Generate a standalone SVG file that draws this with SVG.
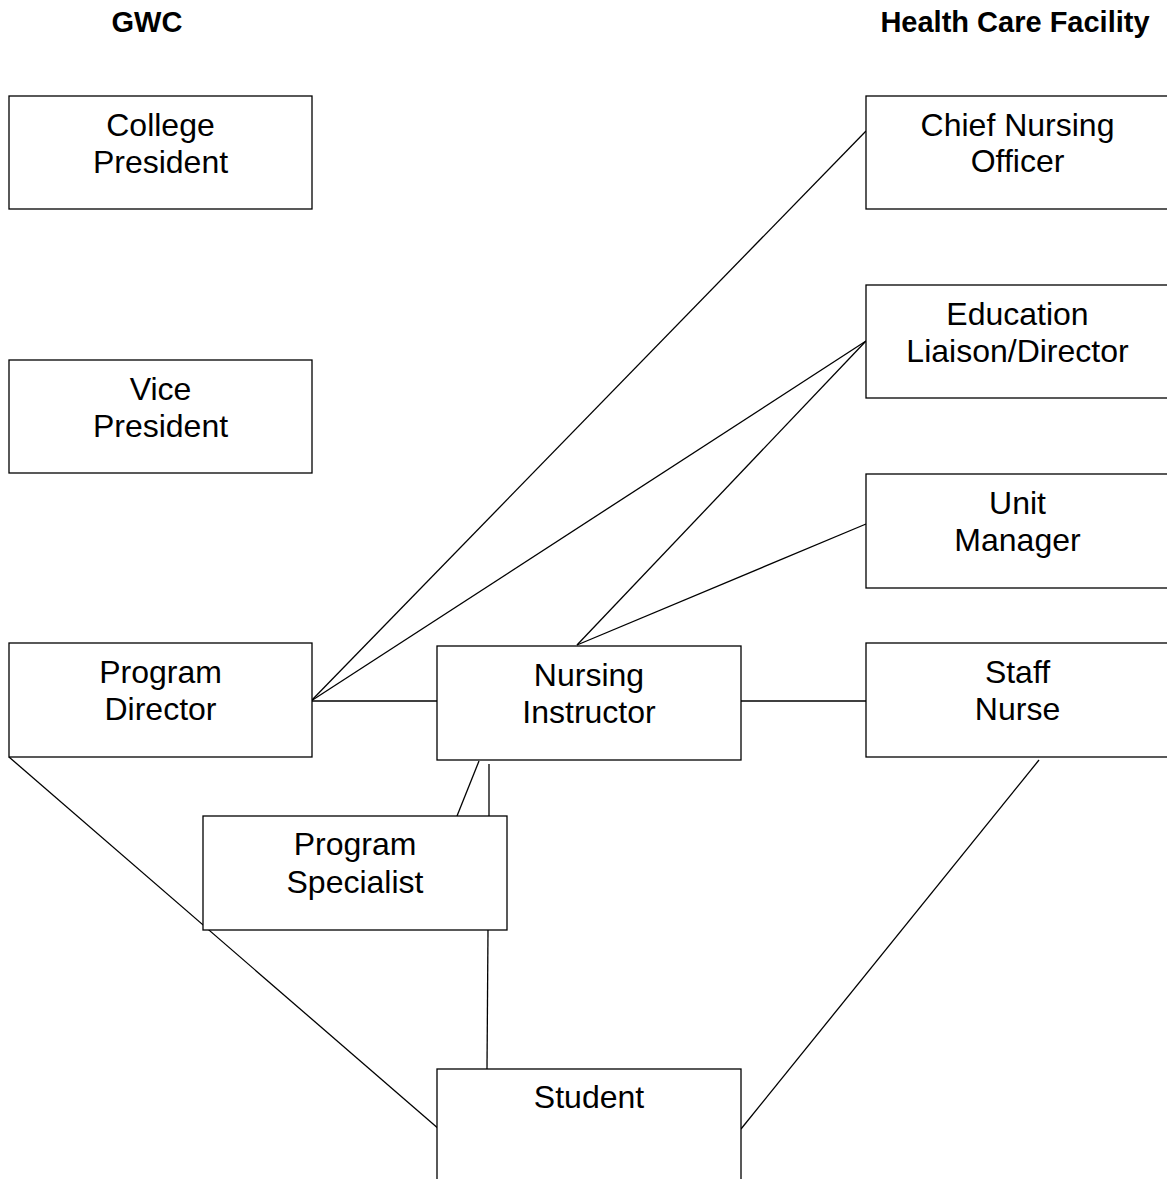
<svg xmlns="http://www.w3.org/2000/svg" width="1167" height="1179" viewBox="0 0 1167 1179">
<style>
.box{fill:#fff;stroke:#000;stroke-width:1.3}
.t{font-family:"Liberation Sans",Arial,sans-serif;font-size:32px;fill:#000;text-anchor:middle}
.h{font-family:"Liberation Sans",Arial,sans-serif;font-size:29px;font-weight:bold;fill:#000;text-anchor:middle}
.c line{stroke:#000;stroke-width:1.3}
</style>
<rect width="1167" height="1179" fill="#fff"/>
<text class="h" x="147" y="32">GWC</text>
<text class="h" x="1015" y="32">Health Care Facility</text>
<g class="c" id="connectors">
<line x1="311" y1="701" x2="866" y2="131"/>
<line x1="311" y1="701" x2="866" y2="341"/>
<line x1="311" y1="701" x2="437" y2="701"/>
<line x1="577" y1="645" x2="866" y2="341"/>
<line x1="577" y1="645" x2="866" y2="524"/>
<line x1="741" y1="701" x2="866" y2="701"/>
<line x1="479" y1="761" x2="457" y2="816"/>
<line x1="489" y1="764" x2="489" y2="816"/>
<line x1="488" y1="930" x2="487" y2="1069"/>
<line x1="9" y1="757" x2="440" y2="1130"/>
<line x1="1039" y1="760" x2="741" y2="1129"/>
</g>
<g id="college-president"><rect class="box" x="9" y="96" width="303" height="113"/><text class="t" x="160.5" y="136">College</text><text class="t" x="160.5" y="173">President</text></g>
<g id="vice-president"><rect class="box" x="9" y="360" width="303" height="113"/><text class="t" x="160.5" y="400">Vice</text><text class="t" x="160.5" y="437">President</text></g>
<g id="program-director"><rect class="box" x="9" y="643" width="303" height="114"/><text class="t" x="160.5" y="683">Program</text><text class="t" x="160.5" y="720">Director</text></g>
<g id="nursing-instructor"><rect class="box" x="437" y="646" width="304" height="114"/><text class="t" x="589" y="686">Nursing</text><text class="t" x="589" y="723">Instructor</text></g>
<g id="program-specialist"><rect class="box" x="203" y="816" width="304" height="114"/><text class="t" x="355" y="855">Program</text><text class="t" x="355" y="893">Specialist</text></g>
<g id="student"><rect class="box" x="437" y="1069" width="304" height="130"/><text class="t" x="589" y="1108">Student</text></g>
<g id="chief-nursing-officer"><rect class="box" x="866" y="96" width="303" height="113"/><text class="t" x="1017.5" y="136">Chief Nursing</text><text class="t" x="1017.5" y="172">Officer</text></g>
<g id="education-liaison"><rect class="box" x="866" y="285" width="303" height="113"/><text class="t" x="1017.5" y="325">Education</text><text class="t" x="1017.5" y="362">Liaison/Director</text></g>
<g id="unit-manager"><rect class="box" x="866" y="474" width="303" height="114"/><text class="t" x="1017.5" y="514">Unit</text><text class="t" x="1017.5" y="551">Manager</text></g>
<g id="staff-nurse"><rect class="box" x="866" y="643" width="303" height="114"/><text class="t" x="1017.5" y="683">Staff</text><text class="t" x="1017.5" y="720">Nurse</text></g>
</svg>
